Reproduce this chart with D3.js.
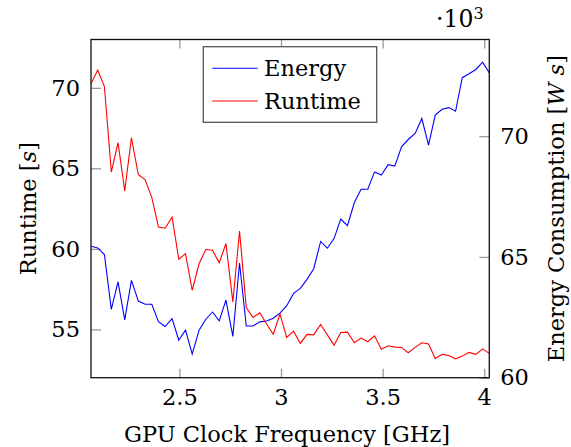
<!DOCTYPE html>
<html><head><meta charset="utf-8">
<script src="https://cdn.jsdelivr.net/npm/d3@7"></script>
<style>
body{margin:0;background:#fff;}
</style></head>
<body><svg id="c" width="571" height="447"></svg>
<script>
const freq = [2.065,2.098,2.131,2.165,2.198,2.231,2.264,2.298,2.331,2.364,
  2.397,2.430,2.464,2.497,2.530,2.563,2.597,2.630,2.663,2.696,
  2.729,2.763,2.796,2.829,2.862,2.896,2.929,2.962,2.995,3.028,
  3.062,3.095,3.128,3.161,3.195,3.228,3.261,3.294,3.327,3.361,
  3.394,3.427,3.460,3.494,3.527,3.560,3.593,3.626,3.660,3.693,
  3.726,3.759,3.793,3.826,3.859,3.892,3.925,3.959,3.992,4.025];
const runtime = [70.25,71.1,70.08,64.77,66.6,63.6,66.9,64.6,64.3,63.2,
  61.36,61.28,61.98,59.36,59.7,57.43,59.09,59.96,59.91,59.13,
  60.33,56.71,61.1,56.36,55.74,56.03,55.33,54.7,55.95,54.5,
  54.89,54.13,54.69,54.66,55.31,54.66,54.02,54.81,54.83,54.17,
  54.46,54.23,54.6,53.76,53.98,53.9,53.88,53.55,53.88,54.17,
  54.09,53.2,53.45,53.38,53.17,53.34,53.57,53.45,53.79,53.51];
const energy = [65.44,65.37,65.10,62.83,63.97,62.39,64.03,63.17,63.04,63.04,
  62.32,62.12,62.45,61.55,61.97,60.98,61.97,62.42,62.72,62.35,
  63.21,61.71,64.75,62.14,62.14,62.31,62.35,62.46,62.67,62.98,
  63.49,63.70,64.07,64.51,65.64,65.36,65.76,66.57,66.29,67.25,
  67.80,67.80,68.52,68.39,68.82,68.76,69.56,69.86,70.11,70.73,
  69.63,70.87,71.11,71.18,71.03,72.42,72.58,72.76,73.06,72.62];
const xTicks = [2.5,3,3.5,4];
const xTickLabels = ["2.5","3","3.5","4"];
const yLeftTicks = [55,60,65,70];
const yRightTicks = [60,65,70];
const seriesNames = ["Energy","Runtime"];
const seriesColors = ["#0000ff","#ff0000"];

const FONT = "DejaVu Serif";
const L=91, R=489.3, T=39.5, B=377.7;
const svg = d3.select("#c");
const x = d3.scaleLinear().domain([2.065,4.025]).range([L,R]);
const yL = d3.scaleLinear().domain([52,73]).range([B,T]);
const yR = d3.scaleLinear().domain([60,74]).range([B,T]);
const fs = 22.5;
const tickCol = "#9a9a9a";

function styleAxis(g){
  g.attr("font-family",FONT).attr("font-size",fs);
  g.select(".domain").remove();
  g.selectAll(".tick line").attr("stroke",tickCol).attr("stroke-width",1.3);
  g.selectAll(".tick text").attr("fill","#000");
}
svg.append("g").attr("transform",`translate(0,${B})`)
  .call(d3.axisBottom(x).tickValues(xTicks).tickFormat((d,i)=>xTickLabels[i]).tickSize(-9).tickPadding(11)).call(styleAxis);
svg.append("g").attr("transform",`translate(0,${T})`)
  .call(d3.axisTop(x).tickValues(xTicks).tickFormat("").tickSize(-9)).call(styleAxis);
svg.append("g").attr("transform",`translate(${L},0)`)
  .call(d3.axisLeft(yL).tickValues(yLeftTicks).tickSize(-10).tickPadding(11)).call(styleAxis);
svg.append("g").attr("transform",`translate(${R},0)`)
  .call(d3.axisRight(yR).tickValues(yRightTicks).tickSize(-10).tickPadding(11)).call(styleAxis);

svg.append("clipPath").attr("id","cp").append("rect")
  .attr("x",L).attr("y",T).attr("width",R-L).attr("height",B-T);
const lineE = d3.line().x((d,i)=>x(freq[i])).y(d=>yR(d));
const lineR = d3.line().x((d,i)=>x(freq[i])).y(d=>yL(d));
const gp = svg.append("g").attr("clip-path","url(#cp)");
gp.append("path").datum(energy).attr("d",lineE).attr("fill","none").attr("stroke",seriesColors[0]).attr("stroke-width",1.1);
gp.append("path").datum(runtime).attr("d",lineR).attr("fill","none").attr("stroke",seriesColors[1]).attr("stroke-width",1.1);

svg.append("rect").attr("x",L).attr("y",T).attr("width",R-L).attr("height",B-T)
  .attr("fill","none").attr("stroke","#111").attr("stroke-width",1.3);

function txt(sel){ return sel.append("text").attr("font-family",FONT).attr("font-size",fs).attr("fill","#000"); }

// legend
const lg = svg.append("g");
lg.append("rect").attr("x",203.3).attr("y",46.7).attr("width",173.4).attr("height",75.6)
  .attr("fill","#fff").attr("stroke","#555").attr("stroke-width",1.3);
seriesNames.forEach((n,i)=>{
  const yy = 68.3 + i*32.7;
  lg.append("line").attr("x1",212.3).attr("x2",257.7).attr("y1",yy).attr("y2",yy)
    .attr("stroke",seriesColors[i]).attr("stroke-width",1.1);
  txt(lg).attr("x",264).attr("y",yy+8).text(n);
});

// axis labels
txt(svg).attr("x",287).attr("y",441.5).attr("text-anchor","middle")
  .text("GPU Clock Frequency [GHz]");
const ll = txt(svg).attr("transform",`translate(36,${(T+B)/2}) rotate(-90)`).attr("text-anchor","middle");
ll.append("tspan").text("Runtime [");
ll.append("tspan").attr("font-style","italic").text("s");
ll.append("tspan").text("]");
const rl = txt(svg).attr("transform",`translate(564,${(T+B)/2}) rotate(-90)`).attr("text-anchor","middle");
rl.append("tspan").text("Energy Consumption [");
rl.append("tspan").attr("font-style","italic").text("W s");
rl.append("tspan").text("]");

const ex = txt(svg).attr("x",436).attr("y",27).attr("font-size",23.5);
ex.append("tspan").text("·10");
ex.append("tspan").attr("font-size",16).attr("dy",-8).text("3");
</script></body></html>
